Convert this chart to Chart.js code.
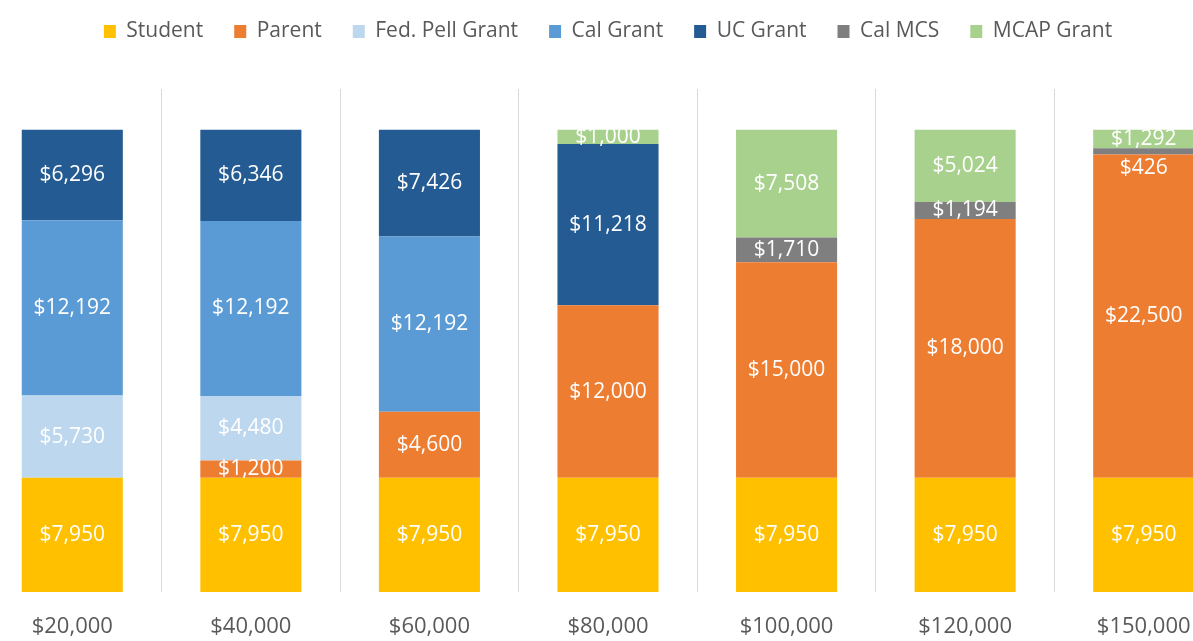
<!DOCTYPE html>
<html>
<head>
<meta charset="utf-8">
<script src="https://cdn.jsdelivr.net/npm/chart.js@4.4.0/dist/chart.umd.min.js"></script>
<style>
    html, body {
        margin: 0;
        padding: 0;
        background: #ffffff;
        overflow: hidden;
        width: 1193px;
        height: 641px;
    }
    #wrap {
        position: absolute;
        left: -17px;
        top: 0;
        width: 1250px;
        height: 641px;
    }
</style>
</head>
<body>
<div id="wrap"><canvas id="aidChart"></canvas></div>
<script>
// Family income brackets
const incomes = ['$20,000', '$40,000', '$60,000', '$80,000', '$100,000', '$120,000', '$150,000'];

// Contribution / grant amounts per bracket
const student  = [7950, 7950, 7950, 7950, 7950, 7950, 7950];
const parent   = [0, 1200, 4600, 12000, 15000, 18000, 22500];
const fedPell  = [5730, 4480, 0, 0, 0, 0, 0];
const calGrant = [12192, 12192, 12192, 0, 0, 0, 0];
const ucGrant  = [6296, 6346, 7426, 11218, 0, 0, 0];
const calMcs   = [0, 0, 0, 0, 1710, 1194, 426];
const mcapGrant = [0, 0, 0, 1000, 7508, 5024, 1292];

const yMax = 35000;

const money = v => '$' + v.toLocaleString('en-US');

// draw the white value labels inside each segment
const segmentLabels = {
    id: 'segmentLabels',
    afterDatasetsDraw(chart) {
        const ctx = chart.ctx;
        ctx.save();
        ctx.font = '21px "Open Sans"';
        ctx.fillStyle = '#ffffff';
        ctx.textAlign = 'center';
        ctx.textBaseline = 'middle';
        const n = chart.data.labels.length;
        for (let i = 0; i < n; i++) {
            let lastY = -Infinity;
            // top-down so small segments get nudged below their neighbour
            for (let d = chart.data.datasets.length - 1; d >= 0; d--) {
                const value = chart.data.datasets[d].data[i];
                if (!value) continue;
                const bar = chart.getDatasetMeta(d).data[i];
                let y = (bar.y + bar.base) / 2;
                if (y < lastY + 29) y = lastY + 29;
                ctx.fillText(money(value), bar.x, y);
                lastY = y;
            }
        }
        ctx.restore();
    }
};

// extra space below the legend
const legendGap = {
    id: 'legendGap',
    beforeInit(chart) {
        const origFit = chart.legend.fit;
        chart.legend.fit = function () {
            origFit.bind(chart.legend)();
            this.height += 37;
        };
    }
};

const ds = (label, data, color) => ({
    label: label,
    data: data,
    backgroundColor: color,
    borderWidth: 0,
    barPercentage: 0.566,
    categoryPercentage: 1
});

new Chart(document.getElementById('aidChart'), {
    type: 'bar',
    data: {
        labels: incomes,
        datasets: [
            ds('Student', student, '#FFC000'),
            ds('Parent', parent, '#ED7D31'),
            ds('Fed. Pell Grant', fedPell, '#BDD7EE'),
            ds('Cal Grant', calGrant, '#5B9BD5'),
            ds('UC Grant', ucGrant, '#235B92'),
            ds('Cal MCS', calMcs, '#7F7F7F'),
            ds('MCAP Grant', mcapGrant, '#A9D18E')
        ]
    },
    plugins: [segmentLabels, legendGap],
    options: {
        responsive: true,
        maintainAspectRatio: false,
        animation: false,
        layout: {
            padding: { top: -10, bottom: 0, left: 0, right: 0 }
        },
        plugins: {
            legend: {
                position: 'top',
                labels: {
                    color: '#595959',
                    boxWidth: 12,
                    boxHeight: 13,
                    padding: 31,
                    font: {
                        size: 21,
                        family: 'Open Sans'
                    }
                }
            },
            tooltip: { enabled: false }
        },
        scales: {
            x: {
                stacked: true,
                grid: {
                    offset: true,
                    color: '#D9D9D9',
                    drawTicks: false
                },
                border: { display: false },
                ticks: {
                    color: '#595959',
                    padding: 22,
                    font: {
                        size: 22,
                        family: 'Open Sans'
                    }
                },
                afterFit(scale) {
                    scale.height = 49;
                }
            },
            y: {
                stacked: true,
                display: false,
                min: 0,
                max: yMax
            }
        }
    }
});
</script>
</body>
</html>
